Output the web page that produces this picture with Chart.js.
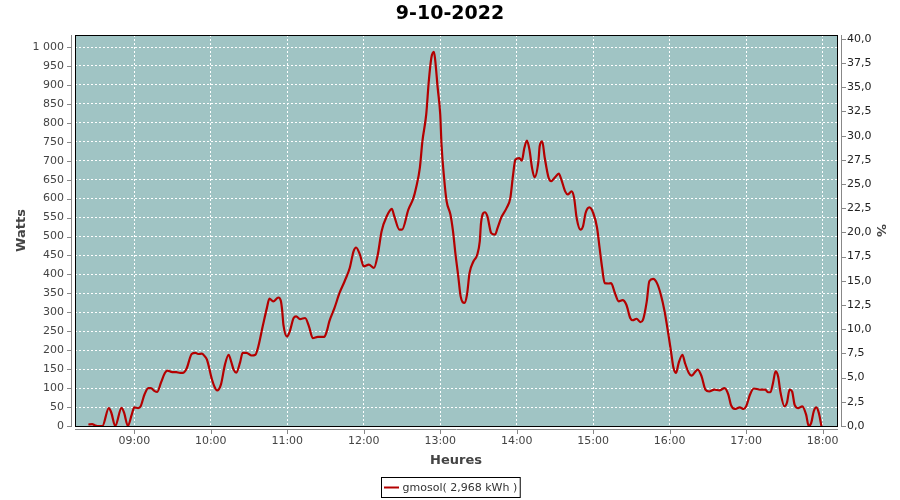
<!DOCTYPE html>
<html>
<head>
<meta charset="utf-8">
<title>9-10-2022</title>
<script src="https://cdn.jsdelivr.net/npm/chart.js@4/dist/chart.umd.min.js"></script>
<style>
    body { margin: 0; background: #fff; }
    canvas { display: block; }
</style>
</head>
<body>
<canvas id="powerChart" width="900" height="500"></canvas>
<script>
var times = ['08:24', '08:27', '08:29', '08:31', '08:35', '08:40', '08:42', '08:45', '08:50', '08:52',
    '08:55', '08:58', '09:00', '09:03', '09:05', '09:08', '09:11', '09:13', '09:16', '09:18',
    '09:21', '09:24', '09:26', '09:29', '09:33', '09:36', '09:38', '09:41', '09:45', '09:48',
    '09:50', '09:53', '09:55', '09:57', '10:01', '10:03', '10:05', '10:08', '10:11', '10:14',
    '10:16', '10:18', '10:20', '10:23', '10:25', '10:28', '10:32', '10:35', '10:37', '10:41',
    '10:44', '10:46', '10:49', '10:53', '10:55', '10:56', '10:57', '11:00', '11:02', '11:05',
    '11:07', '11:10', '11:14', '11:17', '11:20', '11:24', '11:29', '11:31', '11:33', '11:37',
    '11:41', '11:45', '11:49', '11:52', '11:54', '11:57', '12:00', '12:04', '12:08', '12:11',
    '12:14', '12:18', '12:22', '12:24', '12:28', '12:30', '12:35', '12:39', '12:41', '12:44',
    '12:46', '12:49', '12:51', '12:53', '12:55', '12:56', '12:58', '13:00', '13:01', '13:03',
    '13:05', '13:08', '13:10', '13:12', '13:14', '13:16', '13:19', '13:21', '13:23', '13:26',
    '13:29', '13:31', '13:32', '13:35', '13:37', '13:40', '13:43', '13:45', '13:48', '13:52',
    '13:55', '13:57', '13:59', '14:02', '14:04', '14:06', '14:08', '14:10', '14:12', '14:14',
    '14:17', '14:18', '14:20', '14:22', '14:25', '14:27', '14:30', '14:33', '14:35', '14:38',
    '14:40', '14:43', '14:45', '14:47', '14:50', '14:52', '14:54', '14:57', '15:00', '15:03',
    '15:05', '15:07', '15:09', '15:12', '15:14', '15:17', '15:20', '15:23', '15:26', '15:29',
    '15:31', '15:34', '15:37', '15:39', '15:42', '15:44', '15:47', '15:50', '15:53', '15:56',
    '15:59', '16:01', '16:03', '16:05', '16:07', '16:10', '16:12', '16:15', '16:17', '16:22',
    '16:25', '16:28', '16:31', '16:35', '16:39', '16:43', '16:46', '16:48', '16:51', '16:55',
    '16:58', '17:00', '17:03', '17:06', '17:11', '17:15', '17:17', '17:19', '17:21', '17:23',
    '17:25', '17:27', '17:30', '17:32', '17:34', '17:36', '17:38', '17:41', '17:44', '17:47',
    '17:49', '17:51', '17:53', '17:55', '17:57', '17:59'];

var watts = [4, 5, 2, 0, 0, 47, 35, 0, 48, 35,
    0, 30, 49, 47, 52, 83, 100, 100, 92, 90,
    115, 140, 146, 143, 142, 140, 140, 151, 190, 193,
    190, 191, 185, 175, 122, 103, 94, 110, 160, 188,
    170, 148, 141, 168, 193, 193, 186, 188, 206, 267,
    311, 336, 329, 339, 330, 305, 267, 236, 250, 285,
    289, 282, 285, 263, 232, 235, 235, 250, 276, 311,
    351, 382, 417, 461, 471, 452, 421, 426, 417, 452,
    514, 553, 573, 553, 518, 518, 571, 602, 628, 681,
    751, 822, 909, 971, 987, 967, 892, 822, 742, 655,
    593, 558, 514, 452, 399, 342, 325, 347, 404, 434,
    452, 487, 536, 564, 553, 509, 505, 523, 551, 575,
    602, 659, 703, 707, 700, 734, 753, 729, 681, 656,
    698, 738, 751, 707, 655, 646, 656, 666, 650, 619,
    611, 619, 602, 549, 518, 527, 562, 577, 562, 523,
    470, 417, 377, 376, 377, 351, 329, 332, 320, 285,
    279, 283, 274, 280, 329, 382, 388, 377, 347, 302,
    241, 197, 153, 140, 166, 188, 166, 140, 133, 149,
    131, 96, 91, 96, 94, 100, 83, 56, 45, 49,
    45, 52, 83, 99, 96, 96, 89, 89, 113, 144,
    131, 87, 52, 62, 96, 91, 56, 47, 52, 30,
    0, 8, 39, 49, 34, 0];

var hourTicks = ['09:00', '10:00', '11:00', '12:00', '13:00', '14:00', '15:00', '16:00', '17:00', '18:00'];
var wattTicks = [0, 50, 100, 150, 200, 250, 300, 350, 400, 450, 500, 550, 600, 650, 700, 750, 800, 850, 900, 950, 1000];
var pctTicks = [0, 2.5, 5, 7.5, 10, 12.5, 15, 17.5, 20, 22.5, 25, 27.5, 30, 32.5, 35, 37.5, 40];

var seriesLabel = 'gmosol( 2,968 kWh )';
var lineColor = '#b40000';

function toHours(t) {
    var parts = t.split(':');
    return parseInt(parts[0], 10) + parseInt(parts[1], 10) / 60;
}

var points = times.map(function(t, i) {
    return { x: toHours(t), y: watts[i] };
});

function setTicks(list) {
    return function(scale) {
        scale.ticks = list.map(function(v) { return { value: v }; });
    };
}

// plot background, offset grey axes and legend box (JFreeChart look)
var plotDecor = {
    id: 'plotDecor',
    beforeDraw: function(chart) {
        var a = chart.chartArea;
        var ctx = chart.ctx;
        ctx.save();
        ctx.fillStyle = '#a0c4c4';
        ctx.fillRect(a.left, a.top, a.right - a.left, a.bottom - a.top);
        ctx.restore();
    },
    afterDraw: function(chart) {
        var a = chart.chartArea;
        var ctx = chart.ctx;
        var x = chart.scales.x, y = chart.scales.y, y2 = chart.scales.y2;
        ctx.save();
        ctx.strokeStyle = '#000';
        ctx.lineWidth = 1;
        ctx.strokeRect(a.left + 0.5, a.top + 0.5, a.right - a.left, a.bottom - a.top);

        ctx.strokeStyle = '#888';
        ctx.beginPath();
        ctx.moveTo(a.left - 3.5, a.top);
        ctx.lineTo(a.left - 3.5, a.bottom + 1);
        ctx.moveTo(a.left, a.bottom + 3.5);
        ctx.lineTo(a.right + 1, a.bottom + 3.5);
        ctx.moveTo(a.right + 4.5, a.top);
        ctx.lineTo(a.right + 4.5, a.bottom + 1);
        y.ticks.forEach(function(t) {
            var py = Math.round(y.getPixelForValue(t.value)) + 0.5;
            ctx.moveTo(a.left - 8, py);
            ctx.lineTo(a.left - 3, py);
        });
        y2.ticks.forEach(function(t) {
            var py = Math.round(y2.getPixelForValue(t.value)) + 0.5;
            ctx.moveTo(a.right + 4, py);
            ctx.lineTo(a.right + 9, py);
        });
        x.ticks.forEach(function(t) {
            var px = Math.round(x.getPixelForValue(t.value)) + 0.5;
            ctx.moveTo(px, a.bottom + 3);
            ctx.lineTo(px, a.bottom + 8);
        });
        ctx.stroke();

        // legend
        ctx.font = '11px "DejaVu Sans"';
        var tw = ctx.measureText(seriesLabel).width;
        var bw = tw + 24;
        var bx = Math.round(450 - bw / 2) + 0.5;
        var by = 477.5;
        ctx.strokeStyle = '#000';
        ctx.strokeRect(bx, by, bw, 20);
        ctx.strokeStyle = lineColor;
        ctx.lineWidth = 2;
        ctx.beginPath();
        ctx.moveTo(bx + 2.5, by + 10);
        ctx.lineTo(bx + 17.5, by + 10);
        ctx.stroke();
        ctx.fillStyle = '#333';
        ctx.textBaseline = 'middle';
        ctx.fillText(seriesLabel, bx + 21, by + 10.5);
        ctx.restore();
    }
};

var ctx = document.getElementById('powerChart').getContext('2d');

var powerChart = new Chart(ctx, {
    type: 'line',
    data: {
        datasets: [{
            label: seriesLabel,
            data: points,
            borderColor: lineColor,
            borderWidth: 2.2,
            pointRadius: 0,
            fill: false,
            cubicInterpolationMode: 'monotone',
            yAxisID: 'y'
        }]
    },
    options: {
        responsive: false,
        animation: false,
        devicePixelRatio: 1,
        layout: { padding: 0 },
        plugins: {
            legend: { display: false },
            tooltip: { enabled: false },
            title: {
                display: true,
                text: '9-10-2022',
                color: '#000',
                font: { family: 'DejaVu Sans', size: 19, weight: 'bold', lineHeight: 1.2 },
                padding: { top: 3, bottom: 9.2 }
            }
        },
        scales: {
            x: {
                type: 'linear',
                min: 8.225,
                max: 18.187,
                afterBuildTicks: setTicks(hourTicks.map(toHours)),
                afterFit: function(scale) { scale.height = 74; },
                grid: { color: '#fff', lineWidth: 1, drawTicks: false },
                border: { display: false, dash: [2, 2] },
                ticks: {
                    autoSkip: false,
                    maxRotation: 0,
                    padding: 9,
                    color: '#444',
                    font: { family: 'DejaVu Sans', size: 11 },
                    callback: function(v) {
                        var h = Math.round(v);
                        return (h < 10 ? '0' : '') + h + ':00';
                    }
                },
                title: {
                    display: true,
                    text: 'Heures',
                    color: '#444',
                    font: { family: 'DejaVu Sans', size: 13, weight: 'bold', lineHeight: 1.2 },
                    padding: { top: 0, bottom: 32 }
                }
            },
            y: {
                position: 'left',
                min: 0,
                max: 1031.7,
                afterBuildTicks: setTicks(wattTicks),
                afterFit: function(scale) { scale.width = 75; },
                grid: { color: '#fff', lineWidth: 1, drawTicks: false },
                border: { display: false, dash: [2, 2] },
                ticks: {
                    autoSkip: false,
                    padding: 11,
                    color: '#444',
                    font: { family: 'DejaVu Sans', size: 11 },
                    callback: function(v) {
                        return v >= 1000 ? '1 000' : String(v);
                    }
                },
                title: {
                    display: true,
                    text: 'Watts',
                    color: '#444',
                    font: { family: 'DejaVu Sans', size: 13, weight: 'bold', lineHeight: 1.2 },
                    padding: { top: 14, bottom: 0 }
                }
            },
            y2: {
                position: 'right',
                min: 0,
                max: 40.4,
                afterBuildTicks: setTicks(pctTicks),
                afterFit: function(scale) { scale.width = 63; },
                grid: { display: false, drawTicks: false },
                border: { display: false },
                ticks: {
                    autoSkip: false,
                    padding: 10,
                    color: '#222',
                    font: { family: 'DejaVu Sans', size: 11 },
                    callback: function(v) {
                        return v.toFixed(1).replace('.', ',');
                    }
                },
                title: {
                    display: true,
                    text: '%',
                    color: '#444',
                    font: { family: 'DejaVu Sans', size: 13, weight: 'bold', lineHeight: 1.2 },
                    padding: { top: 12, bottom: 0 }
                }
            }
        }
    },
    plugins: [plotDecor]
});
</script>
</body>
</html>
